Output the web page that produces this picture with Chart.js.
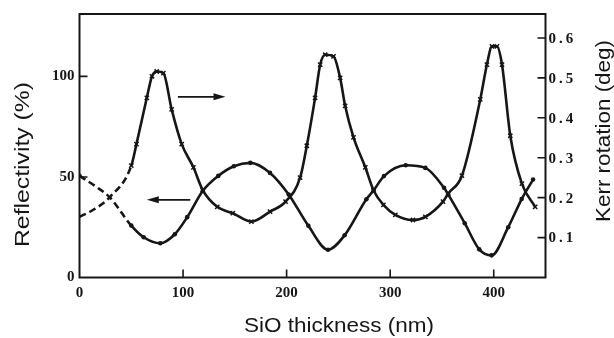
<!DOCTYPE html>
<html><head><meta charset="utf-8">
<script src="https://cdn.jsdelivr.net/npm/chart.js@4.4.1/dist/chart.umd.min.js"></script>
<style>html,body{margin:0;padding:0;background:#fff;}</style>
</head><body>
<canvas id="c" width="614" height="338"></canvas>
<script>
// ---- data ----
const reflThickness = [0,15,29.5,50,62,78,92,104,119,134,149,165,184,202,221,240,256,277,284,294,315,334,352,356,372,386,398,414,427,438];
const reflectivity  = [50.5,45.5,39.7,25.8,20,17,21.5,30,43,50.5,55.3,57,52,41.3,25.7,13.8,21,38.9,43.3,50.4,55.8,54.5,44.6,41.3,27,14,11,25,39,48.7];
const kerrThickness = [0,13,29.5,50,55,65,70,74.6,81,89,98.7,110,119,133,148,166,184,199,213,219.5,227.5,232.4,237.3,245.3,251.7,256.5,264.6,276,284,293.5,305,322,334,351,356,369.3,387,393.4,398.3,403.1,408,416,427.2,440];
const kerrRotation  = [0.152,0.169,0.202,0.28,0.334,0.45,0.504,0.516,0.512,0.421,0.334,0.276,0.219,0.177,0.161,0.14,0.165,0.19,0.25,0.33,0.45,0.533,0.558,0.554,0.50,0.43,0.351,0.276,0.218,0.182,0.157,0.144,0.152,0.19,0.21,0.255,0.446,0.533,0.579,0.579,0.533,0.355,0.235,0.177];
const xTicks = [0,100,200,300,400];
const leftTicks = [0,50,100];
const rightTicks = [0.1,0.2,0.3,0.4,0.5,0.6];
const xTitle = 'SiO thickness (nm)';
const leftTitle = 'Reflectivity (%)';
const rightTitle = 'Kerr rotation (deg)';
const dashedUntil = 50;   // thickness below which curves are dashed
// arrows in data units: [fromX, toX, leftAxisY]
const arrowToKerr = [95, 141, 89.8];
const arrowToRefl = [107, 65, 38.6];

const ink = '#161616';
const toPts = (xs, ys) => xs.map((x, i) => ({x: x, y: ys[i]}));
const dash = c => (c.p1.parsed.x <= dashedUntil ? [7, 4] : undefined);
const serif = '"Liberation Serif", "Times New Roman", serif';
const sans = '"Liberation Sans", Arial, sans-serif';

function drawStretched(ctx, text, x, y, rot, size, targetW) {
  ctx.save();
  ctx.font = size + 'px ' + sans;
  const w = ctx.measureText(text).width;
  ctx.translate(x, y);
  ctx.rotate(rot);
  ctx.scale(targetW / w, 1);
  ctx.textAlign = 'center';
  ctx.textBaseline = 'alphabetic';
  ctx.fillStyle = ink;
  ctx.fillText(text, 0, 0);
  ctx.restore();
}

function arrow(ctx, xs, ys, a) {
  const x1 = xs.getPixelForValue(a[0]), x2 = xs.getPixelForValue(a[1]);
  const y = ys.getPixelForValue(a[2]);
  const dir = Math.sign(x2 - x1);
  ctx.save();
  ctx.strokeStyle = ink; ctx.fillStyle = ink; ctx.lineWidth = 1.6;
  ctx.beginPath(); ctx.moveTo(x1, y); ctx.lineTo(x2 - dir * 8, y); ctx.stroke();
  ctx.beginPath(); ctx.moveTo(x2, y); ctx.lineTo(x2 - dir * 12, y - 3.5); ctx.lineTo(x2 - dir * 12, y + 3.5); ctx.closePath(); ctx.fill();
  ctx.restore();
}

const decor = {
  id: 'decor',
  afterDraw(chart) {
    const ctx = chart.ctx, a = chart.chartArea;
    const xs = chart.scales.x, yl = chart.scales.y, yr = chart.scales.y2;
    ctx.save();
    ctx.strokeStyle = ink; ctx.lineWidth = 2;
    ctx.strokeRect(a.left, a.top, a.right - a.left, a.bottom - a.top);
    ctx.lineWidth = 1.6;
    ctx.beginPath();
    xTicks.forEach(v => { if (v === 0) return; const p = xs.getPixelForValue(v); ctx.moveTo(p, a.bottom); ctx.lineTo(p, a.bottom - 8); });
    leftTicks.forEach(v => { if (v === 0) return; const p = yl.getPixelForValue(v); ctx.moveTo(a.left, p); ctx.lineTo(a.left + 8, p); });
    rightTicks.forEach(v => { const p = yr.getPixelForValue(v); ctx.moveTo(a.right, p); ctx.lineTo(a.right - 8, p); });
    ctx.stroke();
    // right tick labels
    ctx.fillStyle = ink;
    ctx.font = 'bold 15px ' + serif;
    try { ctx.letterSpacing = '3px'; } catch (e) {}
    ctx.textAlign = 'left'; ctx.textBaseline = 'middle';
    rightTicks.forEach(v => ctx.fillText(v.toFixed(1), a.right + 3, yr.getPixelForValue(v) + 1));
    try { ctx.letterSpacing = '0px'; } catch (e) {}
    ctx.restore();
    arrow(ctx, xs, yl, arrowToKerr);
    arrow(ctx, xs, yl, arrowToRefl);
    drawStretched(ctx, xTitle, 339, 332, 0, 21, 190);
    drawStretched(ctx, leftTitle, 28.5, 164.5, -Math.PI / 2, 21, 165);
    drawStretched(ctx, rightTitle, 610, 131, -Math.PI / 2, 21, 182);
  }
};

new Chart(document.getElementById('c'), {
  type: 'line',
  data: {
    datasets: [
      {
        label: 'Reflectivity',
        data: toPts(reflThickness, reflectivity),
        yAxisID: 'y',
        borderColor: ink, borderWidth: 2.6, fill: false,
        cubicInterpolationMode: 'monotone',
        segment: {borderDash: dash},
        pointStyle: 'circle',
        pointRadius: c => (c.raw && c.raw.x > 0 && c.raw.x < dashedUntil ? 0 : 2.3),
        pointBackgroundColor: ink, pointBorderColor: ink, pointBorderWidth: 0
      },
      {
        label: 'Kerr rotation',
        data: toPts(kerrThickness, kerrRotation),
        yAxisID: 'y2',
        borderColor: ink, borderWidth: 2.6, fill: false,
        cubicInterpolationMode: 'monotone',
        segment: {borderDash: dash},
        pointStyle: 'crossRot',
        pointRadius: c => (c.raw && c.raw.x < dashedUntil ? 0 : 3),
        pointBorderColor: ink, pointBorderWidth: 1.5
      }
    ]
  },
  options: {
    responsive: false, animation: false, devicePixelRatio: 1,
    layout: {padding: {top: 12, left: 0, right: 0, bottom: 0}},
    plugins: {legend: {display: false}, tooltip: {enabled: false}},
    scales: {
      x: {
        type: 'linear', position: 'bottom', min: 0, max: 450,
        afterBuildTicks: s => { s.ticks = xTicks.map(v => ({value: v})); },
        afterFit: s => { s.height = 60.5; },
        grid: {display: false, drawTicks: false}, border: {display: false},
        ticks: {color: ink, padding: 7, maxRotation: 0, autoSkip: false,
          font: {family: serif, size: 15, weight: 'bold'}, callback: v => String(v)}
      },
      y: {
        type: 'linear', position: 'left', min: 0, max: 131,
        afterBuildTicks: s => { s.ticks = leftTicks.map(v => ({value: v})); },
        afterFit: s => { s.width = 79.5; },
        grid: {display: false, drawTicks: false}, border: {display: false},
        ticks: {color: ink, padding: 5, autoSkip: false,
          font: {family: serif, size: 15, weight: 'bold'}, callback: v => String(v)}
      },
      y2: {
        type: 'linear', position: 'right', min: 0, max: 0.66,
        afterBuildTicks: s => { s.ticks = rightTicks.map(v => ({value: v})); },
        afterFit: s => { s.width = 68.5; },
        grid: {display: false, drawTicks: false}, border: {display: false},
        ticks: {display: false}
      }
    }
  },
  plugins: [decor]
});
</script>
</body></html>
